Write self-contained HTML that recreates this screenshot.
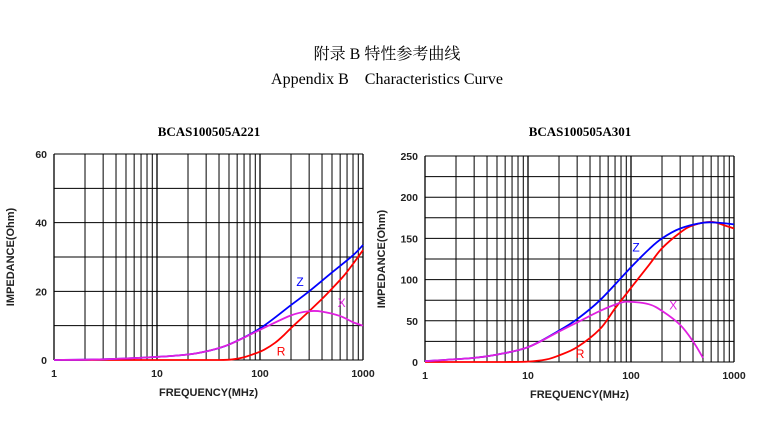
<!DOCTYPE html>
<html><head><meta charset="utf-8"><style>
body{margin:0;background:#fff;width:774px;height:434px;overflow:hidden}
svg{position:absolute;left:0;top:0}
</style></head><body>
<svg id="s" width="774" height="434" xmlns="http://www.w3.org/2000/svg">
<text x="387" y="59" text-anchor="middle" font-family="'Liberation Serif','Noto Serif CJK SC',serif" font-size="16">附录 B  特性参考曲线</text>
<text x="387" y="84" text-anchor="middle" font-family="'Liberation Serif',serif" font-size="16" xml:space="preserve">Appendix B    Characteristics Curve</text>
<text x="209" y="136" text-anchor="middle" font-family="'Liberation Serif',serif" font-size="13" font-weight="bold">BCAS100505A221</text>
<text x="580" y="136" text-anchor="middle" font-family="'Liberation Serif',serif" font-size="13" font-weight="bold">BCAS100505A301</text>
</svg>
<script>
var s=document.getElementById('s'),NS='http://www.w3.org/2000/svg';
function el(t,a,txt){var e=document.createElementNS(NS,t);for(var k in a)e.setAttribute(k,a[k]);if(txt!=null)e.textContent=txt;s.appendChild(e);return e;}
function chart(x0,x1,yTop,yBot,ymax,ystep,ylab,series,labels){
 var W=x1-x0,H=yBot-yTop;
 function X(f){return x0+Math.log10(f)/3*W;}
 function Y(v){return yBot-v/ymax*H;}
 for(var d=1;d<=100;d*=10)for(var m=1;m<10;m++){var x=X(d*m);el('line',{x1:x,y1:yTop,x2:x,y2:yBot,stroke:'#000','stroke-width':m==1?1.3:1});}
 el('line',{x1:x1,y1:yTop,x2:x1,y2:yBot,stroke:'#000','stroke-width':1.3});
 for(var v=0;v<=ymax+1e-6;v+=ystep){var y=Y(v);el('line',{x1:x0,y1:y,x2:x1,y2:y,stroke:'#000','stroke-width':1});}
 var ff="'Liberation Sans',sans-serif";
 ylab.forEach(function(v){el('text',{x:x0-7,y:Y(v)+4,'text-anchor':'end','font-family':ff,'font-size':10.5,'font-weight':'bold',fill:'#222'},String(v));});
 [1,10,100,1000].forEach(function(f){el('text',{x:X(f),y:yBot+17,'text-anchor':'middle','font-family':ff,'font-size':10.5,'font-weight':'bold',fill:'#222'},String(f));});
 el('text',{x:(x0+x1)/2,y:yBot+36,'text-anchor':'middle','font-family':ff,'font-size':11,'font-weight':'bold',fill:'#222'},'FREQUENCY(MHz)');
 el('text',{transform:'translate('+(x0-40)+','+((yTop+yBot)/2)+') rotate(-90)','text-anchor':'middle','font-family':ff,'font-size':11,'font-weight':'bold',fill:'#222'},'IMPEDANCE(Ohm)');
 series.forEach(function(sr){
  var p=sr.pts;
  var P=p.map(function(q){return [X(q[0]),Y(q[1])];});
  var d='M'+P[0][0]+','+P[0][1];
  for(var i=0;i<P.length-1;i++){var a=P[Math.max(0,i-1)],b=P[i],c=P[i+1],e=P[Math.min(P.length-1,i+2)];
   d+=' C'+(b[0]+(c[0]-a[0])/6)+','+(b[1]+(c[1]-a[1])/6)+' '+(c[0]-(e[0]-b[0])/6)+','+(c[1]-(e[1]-b[1])/6)+' '+c[0]+','+c[1];}
  el('path',{d:d,fill:'none',stroke:sr.c,'stroke-width':1.8});
 });
 labels.forEach(function(l){el('text',{x:X(l[0]),y:Y(l[1]),'text-anchor':'middle','font-family':ff,'font-size':12,fill:l[3]},l[2]);});
}
chart(54,363,154,360,60,10,[0,20,40,60],[
 {c:'#f00',pts:[[1,0],[10,0],[40,0],[55,0.2],[70,0.8],[90,1.9],[110,3],[140,5],[170,7.2],[200,9.3],[250,12],[300,14.2],[400,17.8],[500,20.8],[650,24.5],[800,28],[1000,32]]},
 {c:'#00f',pts:[[1,0],[3,0.2],[10,0.9],[20,1.6],[30,2.5],[50,4.5],[100,9.2],[200,16],[300,20],[500,25.5],[800,30.5],[1000,33.5]]},
 {c:'#e020e0',pts:[[1,0],[3,0.2],[10,0.9],[20,1.6],[30,2.5],[50,4.5],[100,8.8],[200,13],[300,14.2],[400,14.1],[600,12.8],[800,11],[1000,10]]}
],[[160,1.3,'R','#f00'],[245,21.5,'Z','#00f'],[620,15.5,'X','#e020e0']]);
chart(425,734,156,362,250,25,[0,50,100,150,200,250],[
 {c:'#f00',pts:[[1,0],[5,0],[10,0.5],[15,3],[20,8],[30,18],[50,40],[70,65],[100,90],[150,118],[200,138],[300,157],[400,166],[600,170],[800,166],[1000,162]]},
 {c:'#00f',pts:[[1,1],[3,5],[5,9],[10,18],[20,38],[30,52],[50,75],[100,115],[150,137],[200,150],[300,162],[500,169],[700,169],[1000,167]]},
 {c:'#e020e0',pts:[[1,1],[3,5],[5,9],[10,18],[20,37],[30,48],[50,62],[80,72],[100,73],[150,70],[200,62],[300,45],[400,25],[500,5]]}
],[[32,5,'R','#f00'],[112,134,'Z','#00f'],[257,64,'X','#e020e0']]);
</script>
</body></html>
